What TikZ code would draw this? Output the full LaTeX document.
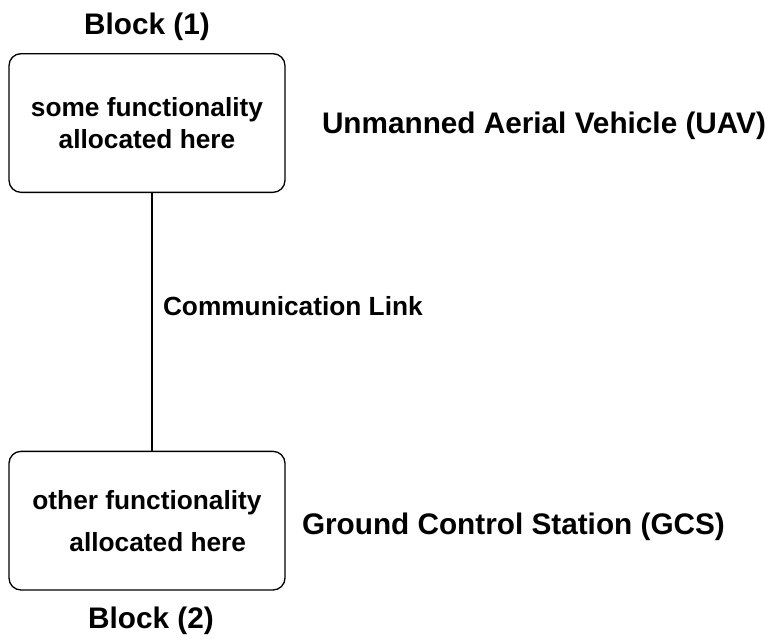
\documentclass[tikz,border=0pt]{standalone}
\usepackage{fontspec}
\setmainfont{Liberation Sans}
\usetikzlibrary{positioning}

\begin{document}
\begin{tikzpicture}[
node distance=1cm,
block/.style={draw,
rounded corners=9pt,
line width=1pt,
outer sep=0pt,
minimum width=207pt,
minimum height=104pt,
align=center,
font=\fontsize{19.7}{24}\selectfont\bfseries},
lbl/.style={inner sep=0pt,
outer sep=0pt,
text height=16pt,
text depth=0pt,
font=\fontsize{22.3}{26.8}\selectfont\bfseries},
small/.style={text height=14.1pt,
font=\fontsize{19.7}{24}\selectfont\bfseries},
link/.style={line width=1pt}
]

\useasboundingbox (-110.25pt,-385.5pt) rectangle (469.5pt,92.25pt);

\node[block] (blk1) at (0,0) {some functionality\\allocated here};
\node[block, below=194.25pt of blk1, align=left] (blk2) {other functionality\\[7.5pt]\hspace*{27.75pt}allocated here};

\node[lbl, above=14.25pt of blk1] (name1) {Block (1)};
\node[lbl, below=12.75pt of blk2, xshift=3pt] (name2) {Block (2)};
\node[lbl, right=27.75pt of blk1] (uav) {Unmanned Aerial Vehicle (UAV)};
\node[lbl, right=12.75pt of blk2, yshift=-2.6pt] (gcs) {Ground Control Station (GCS)};

\draw[link] ([xshift=3.75pt]blk1.south) -- ([xshift=3.75pt]blk2.north) node[lbl, small, pos=0.438, right=8.25pt] (comm) {Communication Link};

\end{tikzpicture}
\end{document}
